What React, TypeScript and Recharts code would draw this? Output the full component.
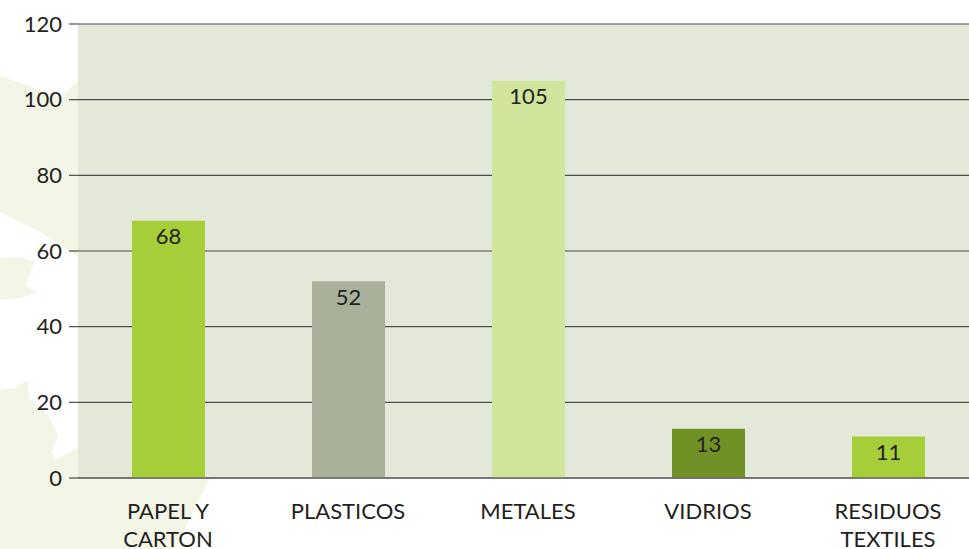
import { BarChart, Bar, XAxis, YAxis, CartesianGrid, Cell, LabelList } from "recharts";

const categories = ["PAPEL Y\nCARTON", "PLASTICOS", "METALES", "VIDRIOS", "RESIDUOS\nTEXTILES"];
const values = [68, 52, 105, 13, 11];
const barColors = ["#a6ce39", "#a9b19a", "#d0e49c", "#6f9125", "#a6ce39"];
const yTicks = [0, 20, 40, 60, 80, 100, 120];

const data = categories.map((name, i) => ({ name, value: values[i] }));

const FONT = "Lato, 'Open Sans', sans-serif";
const TEXT = "#231f20";

function CategoryTick({ x, y, payload }: any) {
  const lines = String(payload.value).split("\n");
  return (
    <text x={x} y={y + 41} textAnchor="middle" fill={TEXT} fontSize={22} fontFamily={FONT}>
      {lines.map((l, i) => (
        <tspan key={i} x={x} dy={i === 0 ? 0 : 28}>
          {l}
        </tspan>
      ))}
    </text>
  );
}

export default function App() {
  return (
    <div
      style={{
        position: "absolute",
        left: 0,
        top: 0,
        width: 969,
        height: 549,
        overflow: "hidden",
        background: "#ffffff",
      }}
    >
      {/* faint map shape behind the axis */}
      <svg width={969} height={549} style={{ position: "absolute", left: 0, top: 0 }}>
        <polygon
          points="0,76 30,86 60,98 78,80 90,80 90,478 210,478 175,549 0,549"
          fill="#f3f6e7"
        />
        <polygon
          points="0,212 40,232 78,257 78,448 55,460 52,452 58,435 48,415 30,398 27,380 15,388 0,390"
          fill="#ffffff"
        />
        <polygon points="0,258 20,257 35,262 25,285 38,293 20,298 0,300" fill="#f3f6e7" />
      </svg>
      <div style={{ position: "absolute", left: 0, top: 0 }}>
        <BarChart
          width={990}
          height={549}
          data={data}
          margin={{ top: 24, right: 12, bottom: 0, left: 0 }}
          barSize={73}
        >
          <CartesianGrid vertical={false} stroke="#4d4d4d" strokeWidth={1.2} fill="#e4e8d8" />
          <XAxis
            dataKey="name"
            height={71}
            tick={<CategoryTick />}
            tickLine={false}
            tickSize={0}
            tickMargin={0}
            axisLine={{ stroke: "#6a6a6a", strokeWidth: 1.5 }}
            interval={0}
          />
          <YAxis
            width={78}
            domain={[0, 120]}
            ticks={yTicks}
            axisLine={false}
            tickLine={{ stroke: "#4d4d4d", strokeWidth: 1.2 }}
            tickSize={9}
            tickMargin={7}
            tick={{ fill: TEXT, fontSize: 22, fontFamily: FONT }}
          />
          <Bar dataKey="value" isAnimationActive={false}>
            {data.map((d, i) => (
              <Cell key={d.name} fill={barColors[i]} />
            ))}
            <LabelList
              dataKey="value"
              position="insideTop"
              offset={8}
              fill={TEXT}
              fontSize={22}
              fontFamily={FONT}
            />
          </Bar>
        </BarChart>
      </div>
    </div>
  );
}
